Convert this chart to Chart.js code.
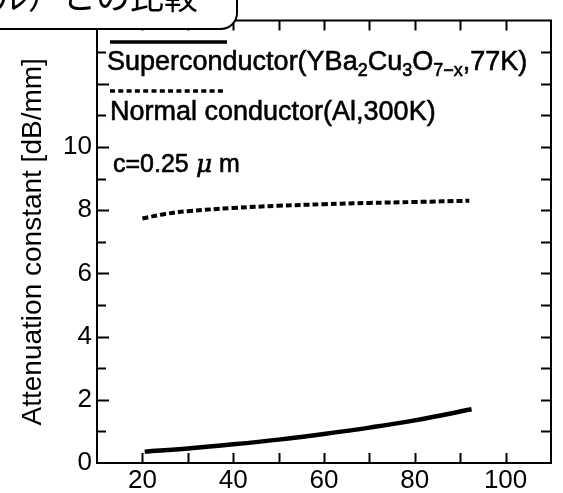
<!DOCTYPE html>
<html>
<head>
<meta charset="utf-8">
<script src="https://cdn.jsdelivr.net/npm/chart.js@4"></script>
<style>
  body { margin: 0; background: #fff; }
  canvas { display: block; }
</style>
</head>
<body>
<canvas id="chart" width="563" height="493"></canvas>
<script>
// ---- data ----
var xTicks = [20, 40, 60, 80, 100];
var yTicks = [0, 2, 4, 6, 8, 10];

var superFreq = [20.5, 30, 40, 50, 60, 70, 80, 92.5];
var superAtten = [0.36, 0.46, 0.59, 0.74, 0.92, 1.12, 1.35, 1.70];

var normalFreq = [20, 25, 30, 40, 50, 60, 70, 80, 92];
var normalAtten = [7.74, 7.88, 7.97, 8.07, 8.14, 8.19, 8.23, 8.26, 8.30];

var superParts = [['Superconductor(YBa', 0], ['2', 1], ['Cu', 0], ['3', 1], ['O', 0], ['7\u2212x', 1], [',77K)', 0]];
var normalText = 'Normal conductor(Al,300K)';
var yTitle = 'Attenuation constant [dB/mm]';
var boxTitle = 'メタル）との比較';

var FONT = '"Liberation Sans", Arial, Helvetica, sans-serif';

function toPoints(xs, ys) {
    var pts = [];
    for (var i = 0; i < xs.length; i++) pts.push({x: xs[i], y: ys[i]});
    return pts;
}

// fill + thin stroke so the text looks as heavy as the scan
function heavyText(ctx, str, x, y) {
    ctx.fillText(str, x, y);
    ctx.strokeText(str, x, y);
}

// frame, inward ticks, legend and the caption box
var decorations = {
    id: 'decorations',
    afterDraw: function (chart) {
        var ctx = chart.ctx;
        var a = chart.chartArea;
        var xs = chart.scales.x, ys = chart.scales.y;
        ctx.save();
        ctx.strokeStyle = '#000';
        ctx.fillStyle = '#000';

        // top and right borders
        ctx.lineWidth = 2;
        ctx.beginPath();
        ctx.moveTo(a.left, a.top);
        ctx.lineTo(a.right, a.top);
        ctx.lineTo(a.right, a.bottom);
        ctx.stroke();

        // x ticks (bottom + top), every 10
        for (var v = 20; v <= 100; v += 10) {
            var px = Math.round(xs.getPixelForValue(v)) + 0.5;
            ctx.beginPath();
            ctx.moveTo(px, a.bottom);
            ctx.lineTo(px, a.bottom - 10);
            ctx.moveTo(px, a.top);
            ctx.lineTo(px, a.top + 10);
            ctx.stroke();
        }
        // y ticks (left + right), every 1
        for (var w = 1; w <= 13; w++) {
            var py = Math.round(ys.getPixelForValue(w)) + 0.5;
            var len = (w % 2 === 0) ? 12 : 9;
            ctx.beginPath();
            ctx.moveTo(a.left, py);
            ctx.lineTo(a.left + len, py);
            ctx.moveTo(a.right, py);
            ctx.lineTo(a.right - 10, py);
            ctx.stroke();
        }

        // legend samples
        ctx.lineWidth = 3.5;
        ctx.beginPath();
        ctx.moveTo(110, 42);
        ctx.lineTo(227, 42);
        ctx.stroke();
        ctx.setLineDash([5, 3.3]);
        ctx.beginPath();
        ctx.moveTo(110, 91);
        ctx.lineTo(223, 91);
        ctx.stroke();
        ctx.setLineDash([]);

        // legend text
        ctx.lineWidth = 0.6;
        ctx.textBaseline = 'alphabetic';
        ctx.textAlign = 'left';
        var x = 107;
        for (var i = 0; i < superParts.length; i++) {
            var sub = superParts[i][1];
            ctx.font = (sub ? '18px ' : '27px ') + FONT;
            heavyText(ctx, superParts[i][0], x, sub ? 76 : 70);
            x += ctx.measureText(superParts[i][0]).width;
        }
        ctx.font = '27px ' + FONT;
        heavyText(ctx, normalText, 110, 120);

        // c=0.25 μm
        ctx.font = '25px ' + FONT;
        heavyText(ctx, 'c=0.25', 113, 172);
        ctx.font = 'italic 25px "DejaVu Serif", serif';
        heavyText(ctx, '\u03bc', 196, 172);
        ctx.font = '25px ' + FONT;
        heavyText(ctx, 'm', 219, 172);

        // caption box in the corner
        ctx.lineWidth = 2;
        ctx.fillStyle = '#fff';
        ctx.beginPath();
        ctx.roundRect(-30, -40, 267, 69, 16);
        ctx.fill();
        ctx.stroke();
        ctx.fillStyle = '#000';
        ctx.font = '34px "Noto Sans CJK JP", sans-serif';
        ctx.textAlign = 'right';
        ctx.fillText(boxTitle, 198, 9);

        ctx.restore();
    }
};

var chart = new Chart(document.getElementById('chart'), {
    type: 'line',
    data: {
        datasets: [
            {
                label: 'Superconductor',
                data: toPoints(superFreq, superAtten),
                borderColor: '#000',
                borderWidth: 4.5,
                pointRadius: 0,
                tension: 0.4,
                fill: false
            },
            {
                label: 'Normal conductor',
                data: toPoints(normalFreq, normalAtten),
                borderColor: '#000',
                borderWidth: 4,
                borderDash: [6, 3],
                pointRadius: 0,
                tension: 0.4,
                fill: false
            }
        ]
    },
    options: {
        responsive: false,
        animation: false,
        devicePixelRatio: 1,
        layout: {padding: {top: 8, right: 12, left: 0, bottom: 0}},
        plugins: {legend: {display: false}, tooltip: {enabled: false}},
        scales: {
            x: {
                type: 'linear',
                min: 10,
                max: 110,
                afterBuildTicks: function (s) {
                    s.ticks = xTicks.map(function (v) { return {value: v}; });
                },
                afterFit: function (s) { s.height = 30; },
                grid: {display: false, drawTicks: false},
                border: {display: true, color: '#000', width: 2},
                ticks: {color: '#000', font: {family: FONT, size: 26}, padding: 2, maxRotation: 0}
            },
            y: {
                type: 'linear',
                min: 0,
                max: 14,
                afterBuildTicks: function (s) {
                    s.ticks = yTicks.map(function (v) { return {value: v}; });
                },
                afterFit: function (s) { s.width = 97; },
                grid: {display: false, drawTicks: false},
                border: {display: true, color: '#000', width: 2},
                ticks: {color: '#000', font: {family: FONT, size: 26}, padding: 5},
                title: {
                    display: true,
                    text: yTitle,
                    color: '#000',
                    font: {family: FONT, size: 28},
                    padding: {top: 16, bottom: 0}
                }
            }
        }
    },
    plugins: [decorations]
});
</script>
</body>
</html>
